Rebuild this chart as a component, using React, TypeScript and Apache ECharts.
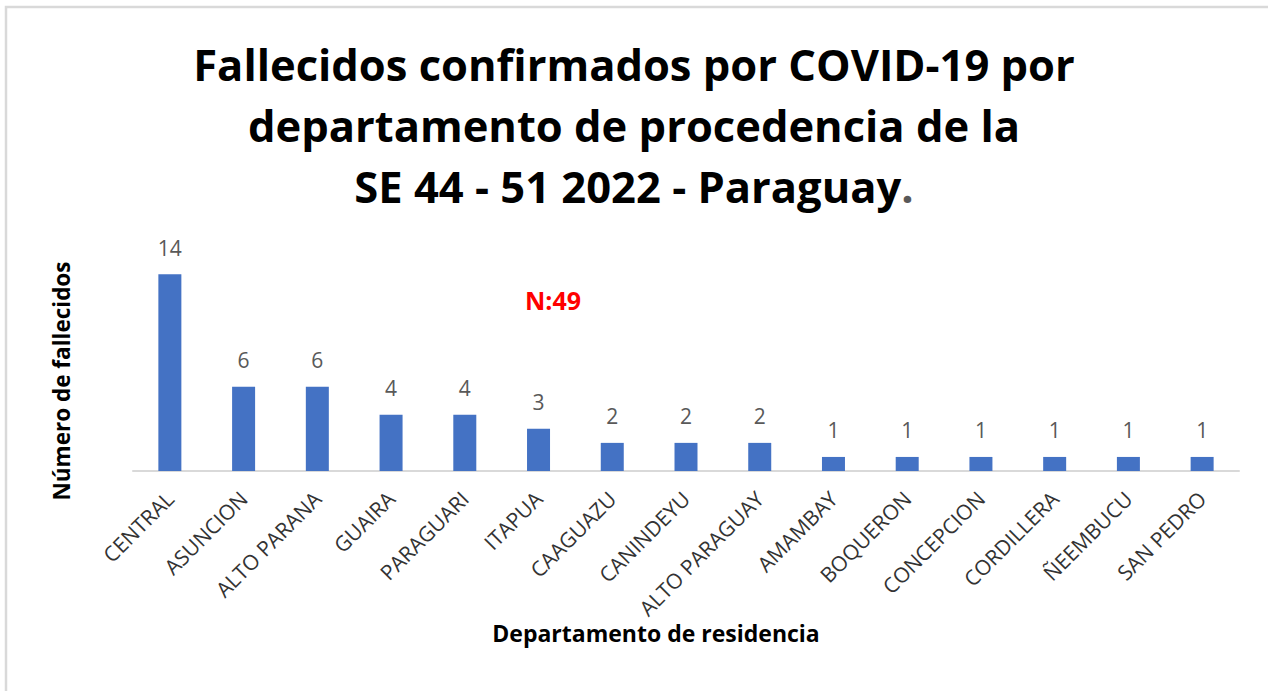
import React, { useEffect, useRef } from "react";
import * as echarts from "echarts";

const categories = [
  "CENTRAL", "ASUNCION", "ALTO PARANA", "GUAIRA", "PARAGUARI", "ITAPUA",
  "CAAGUAZU", "CANINDEYU", "ALTO PARAGUAY", "AMAMBAY", "BOQUERON",
  "CONCEPCION", "CORDILLERA", "ÑEEMBUCU", "SAN PEDRO",
];
const deaths = [14, 6, 6, 4, 4, 3, 2, 2, 2, 1, 1, 1, 1, 1, 1];
const titleLines = [
  "Fallecidos confirmados por COVID-19 por",
  "departamento de procedencia de la",
  "SE 44 - 51 2022 - Paraguay{g|.}",
];
const totalLabel = "N:49";
const xAxisTitle = "Departamento de residencia";
const yAxisTitle = "Número de fallecidos";

const FONT = "'Open Sans', 'Noto Sans', sans-serif";

export default function App() {
  const ref = useRef<HTMLDivElement>(null);
  useEffect(() => {
    if (!ref.current) return;
    const chart = echarts.init(ref.current, undefined, { renderer: "svg" });
    const titleStyle = {
      fontFamily: FONT,
      fontWeight: "bold",
      fontSize: 43.5,
      lineHeight: 61,
    };
    chart.setOption({
      animation: false,
      backgroundColor: "#ffffff",
      title: {
        text: titleLines.join("\n"),
        left: "center",
        top: 29,
        padding: [5, 0, 5, 10],
        textStyle: {
          ...titleStyle,
          color: "#000000",
          rich: { g: { ...titleStyle, color: "#595959" } },
        },
      },
      grid: { left: 133, right: 29, top: 246, bottom: 220, containLabel: false },
      xAxis: {
        type: "category",
        data: categories,
        axisLine: { lineStyle: { color: "#d9d9d9", width: 2 } },
        axisTick: { show: false },
        axisLabel: {
          rotate: 45,
          interval: 0,
          margin: 24,
          fontFamily: FONT,
          fontSize: 21,
          color: "#333333",
        },
      },
      yAxis: {
        type: "value",
        min: 0,
        max: 16,
        show: false,
        splitLine: { show: false },
      },
      series: [
        {
          type: "bar",
          data: deaths,
          barWidth: 23,
          itemStyle: { color: "#4472C4" },
          label: {
            show: true,
            position: "top",
            distance: 16,
            fontFamily: FONT,
            fontSize: 21,
            color: "#595959",
          },
        },
      ],
      graphic: [
        {
          type: "rect",
          shape: { x: 6, y: 7, width: 1300, height: 800 },
          style: { fill: "none", stroke: "#d9d9d9", lineWidth: 2.5 },
          silent: true,
        },
        {
          type: "text",
          x: 553,
          y: 300,
          style: {
            text: totalLabel,
            fontFamily: FONT,
            fontWeight: "bold",
            fontSize: 25,
            fill: "#ff0000",
            align: "center",
            verticalAlign: "middle",
          },
        },
        {
          type: "text",
          x: 656,
          y: 633,
          style: {
            text: xAxisTitle,
            fontFamily: FONT,
            fontWeight: "bold",
            fontSize: 23,
            fill: "#000000",
            align: "center",
            verticalAlign: "middle",
          },
        },
        {
          type: "text",
          x: 61,
          y: 381,
          rotation: Math.PI / 2,
          style: {
            text: yAxisTitle,
            fontFamily: FONT,
            fontWeight: "bold",
            fontSize: 22.5,
            fill: "#000000",
            align: "center",
            verticalAlign: "middle",
          },
        },
      ],
    });
    return () => chart.dispose();
  }, []);
  return (
    <div
      ref={ref}
      style={{ position: "fixed", left: 0, top: 0, width: 1268, height: 691 }}
    />
  );
}
